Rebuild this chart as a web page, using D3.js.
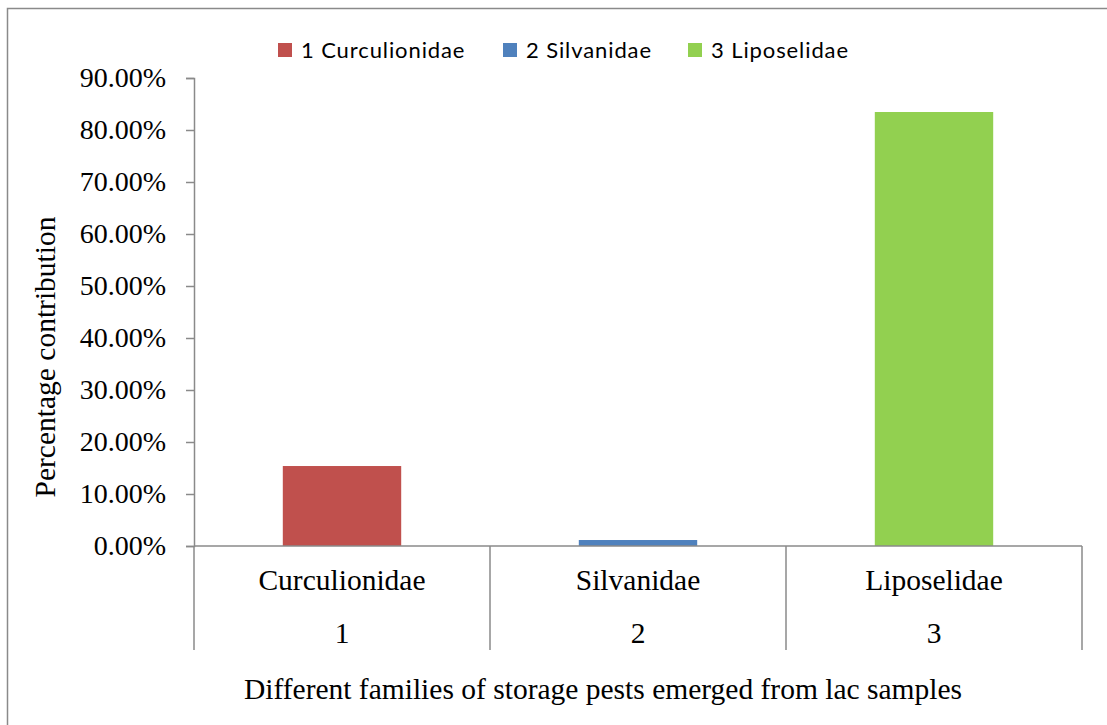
<!DOCTYPE html>
<html>
<head>
<meta charset="utf-8">
<script src="https://cdn.jsdelivr.net/npm/d3@7"></script>
<style>
  html, body { margin: 0; padding: 0; background: #fff; }
  svg { display: block; }
</style>
</head>
<body>
<div id="chart"></div>
<script>
"use strict";

// data
const families = ["Curculionidae", "Silvanidae", "Liposelidae"];
const familyNumbers = ["1", "2", "3"];
const contribution = [0.1538, 0.0115, 0.8346];
const legendLabels = ["1 Curculionidae", "2 Silvanidae", "3 Liposelidae"];
const yTicks = [0, 0.1, 0.2, 0.3, 0.4, 0.5, 0.6, 0.7, 0.8, 0.9];
const colors = ["#C0504D", "#4F81BD", "#92D050"];

const W = 1107, H = 725;
const margin = { top: 78, right: 25, bottom: 179, left: 194 };
const width = W - margin.left - margin.right;
const height = H - margin.top - margin.bottom;
const axisColor = "#8a8a8a";
const serif = "'Liberation Serif', 'Times New Roman', serif";
const labelSize = "29.5px";

const svg = d3.select("#chart").append("svg")
    .attr("width", W)
    .attr("height", H);

// chart frame (cut off at right and bottom like the picture)
svg.append("rect")
    .attr("x", 7.5).attr("y", 8.5)
    .attr("width", W + 20).attr("height", H + 20)
    .attr("fill", "none")
    .attr("stroke", axisColor)
    .attr("stroke-width", 1.5);

const g = svg.append("g")
    .attr("transform", "translate(" + margin.left + "," + margin.top + ")");

const x = d3.scaleBand()
    .domain(families)
    .range([0, width]);

const xBar = d3.scaleBand()
    .domain(families)
    .range([0, width])
    .paddingInner(0.6)
    .paddingOuter(0.3);

const y = d3.scaleLinear()
    .domain([0, 0.9])
    .range([height, 0]);

// bars
g.selectAll(".bar")
    .data(families)
    .enter().append("rect")
    .attr("class", "bar")
    .attr("x", d => xBar(d))
    .attr("width", xBar.bandwidth())
    .attr("y", (d, i) => y(contribution[i]))
    .attr("height", (d, i) => height - y(contribution[i]))
    .attr("fill", (d, i) => colors[i]);

// y axis
const yAxis = g.append("g")
    .call(d3.axisLeft(y).tickValues(yTicks).tickFormat(d3.format(".2%")).tickSizeOuter(0).tickSize(8).tickPadding(20));
yAxis.select(".domain").attr("stroke", axisColor).attr("stroke-width", 1.5);
yAxis.selectAll(".tick line").attr("stroke", axisColor).attr("stroke-width", 1.5);
yAxis.selectAll(".tick text")
    .attr("fill", "#000")
    .style("font-family", serif)
    .style("font-size", "28px");

// x axis line
g.append("line")
    .attr("x1", 0).attr("x2", width)
    .attr("y1", height).attr("y2", height)
    .attr("stroke", axisColor)
    .attr("stroke-width", 1.5);

// multi-level category separators
const edges = families.map(d => x(d)).concat([width]);
g.selectAll(".sep")
    .data(edges)
    .enter().append("line")
    .attr("class", "sep")
    .attr("x1", d => d).attr("x2", d => d)
    .attr("y1", height).attr("y2", height + 104)
    .attr("stroke", axisColor)
    .attr("stroke-width", 1.5);

g.selectAll(".catLabel")
    .data(families)
    .enter().append("text")
    .attr("class", "catLabel")
    .attr("x", d => x(d) + x.bandwidth() / 2)
    .attr("y", height + 44)
    .attr("text-anchor", "middle")
    .style("font-family", serif)
    .style("font-size", labelSize)
    .text(d => d);

g.selectAll(".numLabel")
    .data(familyNumbers)
    .enter().append("text")
    .attr("class", "numLabel")
    .attr("x", (d, i) => x(families[i]) + x.bandwidth() / 2)
    .attr("y", height + 97)
    .attr("text-anchor", "middle")
    .style("font-family", serif)
    .style("font-size", labelSize)
    .text(d => d);

// axis titles
svg.append("text")
    .attr("x", 603)
    .attr("y", 699)
    .attr("text-anchor", "middle")
    .style("font-family", serif)
    .style("font-size", labelSize)
    .text("Different families of storage pests emerged from lac samples");

svg.append("text")
    .attr("transform", "translate(55,357) rotate(-90)")
    .attr("text-anchor", "middle")
    .style("font-family", serif)
    .style("font-size", labelSize)
    .text("Percentage contribution");

// legend
const legendX = [278, 503, 688];
const legend = svg.selectAll(".legend")
    .data(legendLabels)
    .enter().append("g")
    .attr("class", "legend")
    .attr("transform", (d, i) => "translate(" + legendX[i] + ",43)");

legend.append("rect")
    .attr("width", 14)
    .attr("height", 14)
    .attr("fill", (d, i) => colors[i]);

legend.append("text")
    .attr("x", 23)
    .attr("y", 14.5)
    .style("font-family", "Lato, 'Open Sans', sans-serif")
    .style("font-size", "22px")
    .style("letter-spacing", "0.9px")
    .text(d => d);
</script>
</body>
</html>
